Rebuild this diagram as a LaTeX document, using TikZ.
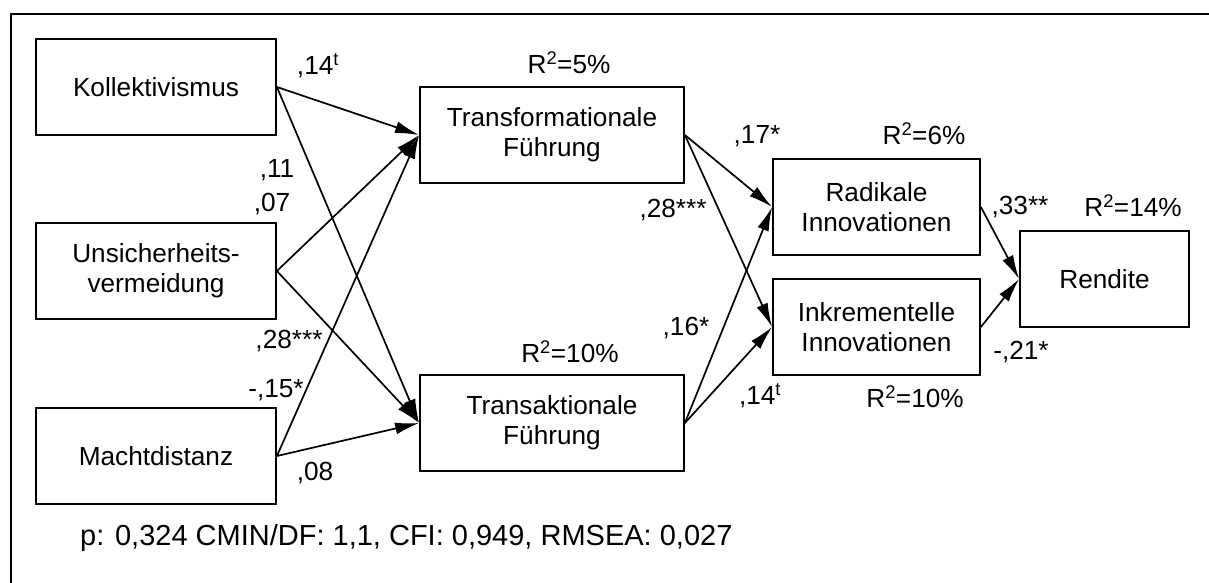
\documentclass[tikz,border=0pt]{standalone}
\usepackage{fontspec}
\setmainfont{Liberation Sans}
\usetikzlibrary{arrows.meta}

\begin{document}
\begin{tikzpicture}[x=1pt, y=-1pt,
  every node/.style={font=\fontsize{26.2}{30}\selectfont, inner sep=0pt},
  var/.style={draw, line width=1.8pt, align=center, minimum height=96pt},
  path/.style={line width=1.7pt, -{Latex[length=24pt, width=12pt]}},
  coef/.style={anchor=center}
]
\useasboundingbox (0,0) rectangle (1209,583);
\clip (0,0) rectangle (1209,583);
\fill[white] (0,0) rectangle (1209,583);

% outer frame (only top and left edges fall inside the page)
\draw[line width=2.3pt] (11,14) rectangle (1240,620);

% observed variables
\node[var, minimum width=240pt] (koll)  at (156,87)  {Kollektivismus};
\node[var, minimum width=240pt] (unsi)  at (156,271) {Unsicherheits-\\vermeidung};
\node[var, minimum width=240pt] (macht) at (156,456) {Machtdistanz};
\node[var, minimum width=264pt] (tf)    at (552,135) {Transformationale\\Führung};
\node[var, minimum width=264pt] (ta)    at (552,423) {Transaktionale\\Führung};
\node[var, minimum width=207pt] (rad)   at (876.5,207) {Radikale\\Innovationen};
\node[var, minimum width=207pt] (ink)   at (876.5,327) {Inkrementelle\\Innovationen};
\node[var, minimum width=169pt] (ren)   at (1104.5,279) {Rendite};

% structural paths
\draw[path] (koll.east)  -- (tf.west);
\draw[path] (koll.east)  -- (ta.west);
\draw[path] (unsi.east)  -- (tf.west);
\draw[path] (unsi.east)  -- (ta.west);
\draw[path] (macht.east) -- (tf.west);
\draw[path] (macht.east) -- (ta.west);
\draw[path] (tf.east) -- (rad.west);
\draw[path] (tf.east) -- (ink.west);
\draw[path] (ta.east) -- (rad.west);
\draw[path] (ta.east) -- (ink.west);
\draw[path] (rad.east) -- (ren.west);
\draw[path] (ink.east) -- (ren.west);

% path coefficients
\node[coef] (c1)  at (318,66)  {,14\textsuperscript{t}};
\node[coef] (c2)  at (277,170) {,11};
\node[coef] (c3)  at (272,204) {,07};
\node[coef] (c4)  at (289,341) {,28***};
\node[coef] (c5)  at (276,390) {-,15*};
\node[coef] (c6)  at (315,473) {,08};
\node[coef] (c7)  at (757,136) {,17*};
\node[coef] (c8)  at (673,210) {,28***};
\node[coef] (c9)  at (686,328) {,16*};
\node[coef] (c10) at (760,396) {,14\textsuperscript{t}};
\node[coef] (c11) at (1020,207) {,33**};
\node[coef] (c12) at (1021,352) {-,21*};

% explained variance
\node[coef] (r1) at (569,63)  {R\textsuperscript{2}=5\%};
\node[coef] (r2) at (570,352) {R\textsuperscript{2}=10\%};
\node[coef] (r3) at (924,134) {R\textsuperscript{2}=6\%};
\node[coef] (r4) at (1133,206) {R\textsuperscript{2}=14\%};
\node[coef] (r5) at (915,397) {R\textsuperscript{2}=10\%};

% model fit
\node[anchor=west, font=\fontsize{29}{33}\selectfont] (fit) at (80,538) {p: 0,324 CMIN/DF: 1,1, CFI: 0,949, RMSEA: 0,027};
\end{tikzpicture}
\end{document}
